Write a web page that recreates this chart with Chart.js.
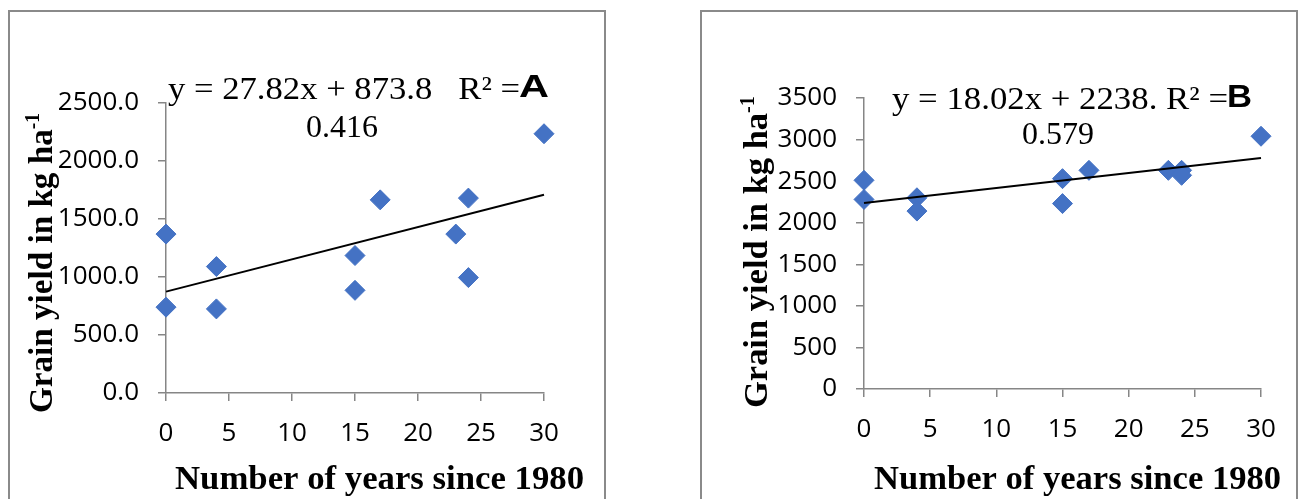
<!DOCTYPE html>
<html>
<head>
<meta charset="utf-8">
<script src="https://cdn.jsdelivr.net/npm/chart.js@4"></script>
<style>
  body { margin: 0; background: #fff; width: 1299px; height: 499px; overflow: hidden; position: relative; }
  .frame { position: absolute; top: 10px; height: 600px; border: 2px solid #8a8a8a; box-sizing: border-box; }
  canvas { position: absolute; top: 0; }
</style>
</head>
<body>
<div class="frame" style="left:8px;width:598px"></div>
<div class="frame" style="left:700px;width:598px"></div>
<canvas id="chartA" width="650" height="499" style="left:0"></canvas>
<canvas id="chartB" width="649" height="499" style="left:650px"></canvas>
<script>
// Years since 1980 (same for both panels)
const years = [0, 0, 4, 4, 15, 15, 17, 23, 24, 24, 30];
// Grain yield, kg/ha
const yieldA = [1370, 740, 1090, 725, 1185, 885, 1665, 1370, 1680, 995, 2235];
const yieldB = [2510, 2280, 2300, 2140, 2530, 2230, 2630, 2630, 2630, 2570, 3040];
// Trend lines as printed on the chart
const trendA = { slope: 27.82, intercept: 873.8, r2: "0.416" };
const trendB = { slope: 18.02, intercept: 2238, r2: "0.579" };
const xTicks = [0, 5, 10, 15, 20, 25, 30];

const blue = "#4472c4";
const grey = "#868686";
const tickFont = { family: "'Open Sans'", size: 26 };

// Draw a string squeezed/stretched to a given width.
function fitText(ctx, text, x, y, width) {
  const w = ctx.measureText(text).width;
  ctx.save();
  ctx.translate(x, y);
  ctx.scale(width / w, 1);
  ctx.fillText(text, 0, 0);
  ctx.restore();
}

// Equation, panel letter and axis titles.
const panelText = {
  id: "panelText",
  afterDraw(chart, args, o) {
    const ctx = chart.ctx;
    ctx.save();
    ctx.fillStyle = "#000";
    ctx.textBaseline = "alphabetic";
    ctx.textAlign = "left";

    ctx.font = "32px 'Liberation Serif'";
    fitText(ctx, o.eq, o.eqX, o.eqY, o.eqW);
    ctx.textAlign = "center";
    ctx.fillText(o.r2, o.r2X, o.r2Y);
    ctx.textAlign = "left";

    ctx.font = "bold 31px 'Liberation Sans'";
    fitText(ctx, o.letter, o.letterX, o.letterY, o.letterW);

    // x title
    ctx.font = "bold 34px 'Liberation Serif'";
    fitText(ctx, "Number of years since 1980", o.xtX, o.xtY, o.xtW);

    // y title with superscript
    ctx.save();
    ctx.translate(o.ytX, o.ytY);
    ctx.rotate(-Math.PI / 2);
    ctx.font = "bold 34px 'Liberation Serif'";
    const main = "Grain yield in kg ha";
    const w1 = ctx.measureText(main).width;
    ctx.font = "bold 20px 'Liberation Serif'";
    const w2 = ctx.measureText("-1").width;
    ctx.scale(o.ytL / (w1 + w2), 1);
    ctx.font = "bold 34px 'Liberation Serif'";
    ctx.fillText(main, 0, 0);
    ctx.font = "bold 20px 'Liberation Serif'";
    ctx.fillText("-1", w1, -13);
    ctx.restore();

    ctx.restore();
  }
};

function makeChart(id, ys, trend, yMax, yDecimals, area, text) {
  return new Chart(document.getElementById(id), {
    type: "scatter",
    data: {
      datasets: [
        {
          type: "line",
          data: [
            { x: 0, y: trend.intercept },
            { x: 30, y: trend.intercept + trend.slope * 30 }
          ],
          borderColor: "#000",
          borderWidth: 2,
          pointRadius: 0,
          clip: false
        },
        {
          data: years.map((x, i) => ({ x: x, y: ys[i] })),
          pointStyle: "rectRot",
          pointRadius: 10,
          backgroundColor: blue,
          borderColor: blue,
          borderWidth: 1,
          clip: false
        }
      ]
    },
    options: {
      responsive: false,
      animation: false,
      devicePixelRatio: 1,
      layout: {
        autoPadding: false,
        padding: { top: area.top, right: area.right, left: 0, bottom: 0 }
      },
      plugins: {
        legend: { display: false },
        tooltip: { enabled: false },
        panelText: text
      },
      scales: {
        x: {
          type: "linear",
          min: 0,
          max: 30,
          afterBuildTicks: (s) => { s.ticks = xTicks.map((v) => ({ value: v })); },
          afterFit: (s) => { s.height = area.xHeight; },
          ticks: { font: tickFont, color: "#000", padding: 17, maxRotation: 0 },
          grid: { drawOnChartArea: false, tickLength: 8, color: grey, lineWidth: 1.5 },
          border: { color: grey, width: 1.5 }
        },
        y: {
          min: 0,
          max: yMax,
          afterFit: (s) => { s.width = area.yWidth; },
          ticks: {
            stepSize: 500,
            font: tickFont,
            color: "#000",
            padding: 19,
            callback: (v) => v.toFixed(yDecimals)
          },
          grid: { drawOnChartArea: false, tickLength: 8, color: grey, lineWidth: 1.5 },
          border: { color: grey, width: 1.5 }
        }
      }
    },
    plugins: [panelText]
  });
}

makeChart("chartA", yieldA, trendA, 2500, 1,
  { top: 103, right: 106, yWidth: 166, xHeight: 106 },
  {
    eq: "y = 27.82x + 873.8   R² =", eqX: 168, eqY: 99, eqW: 352,
    r2: trendA.r2, r2X: 342, r2Y: 137,
    letter: "A", letterX: 519, letterY: 97, letterW: 30,
    xtX: 175, xtY: 489, xtW: 409,
    ytX: 52, ytY: 413, ytL: 300
  });

makeChart("chartB", yieldB, trendB, 3500, 0,
  { top: 98, right: 38, yWidth: 214, xHeight: 110 },
  {
    eq: "y = 18.02x + 2238. R² =", eqX: 242, eqY: 109, eqW: 336,
    r2: trendB.r2, r2X: 408, r2Y: 144,
    letter: "B", letterX: 577, letterY: 107, letterW: 25,
    xtX: 224, xtY: 489, xtW: 407,
    ytX: 117, ytY: 408, ytL: 312
  });
</script>
</body>
</html>
